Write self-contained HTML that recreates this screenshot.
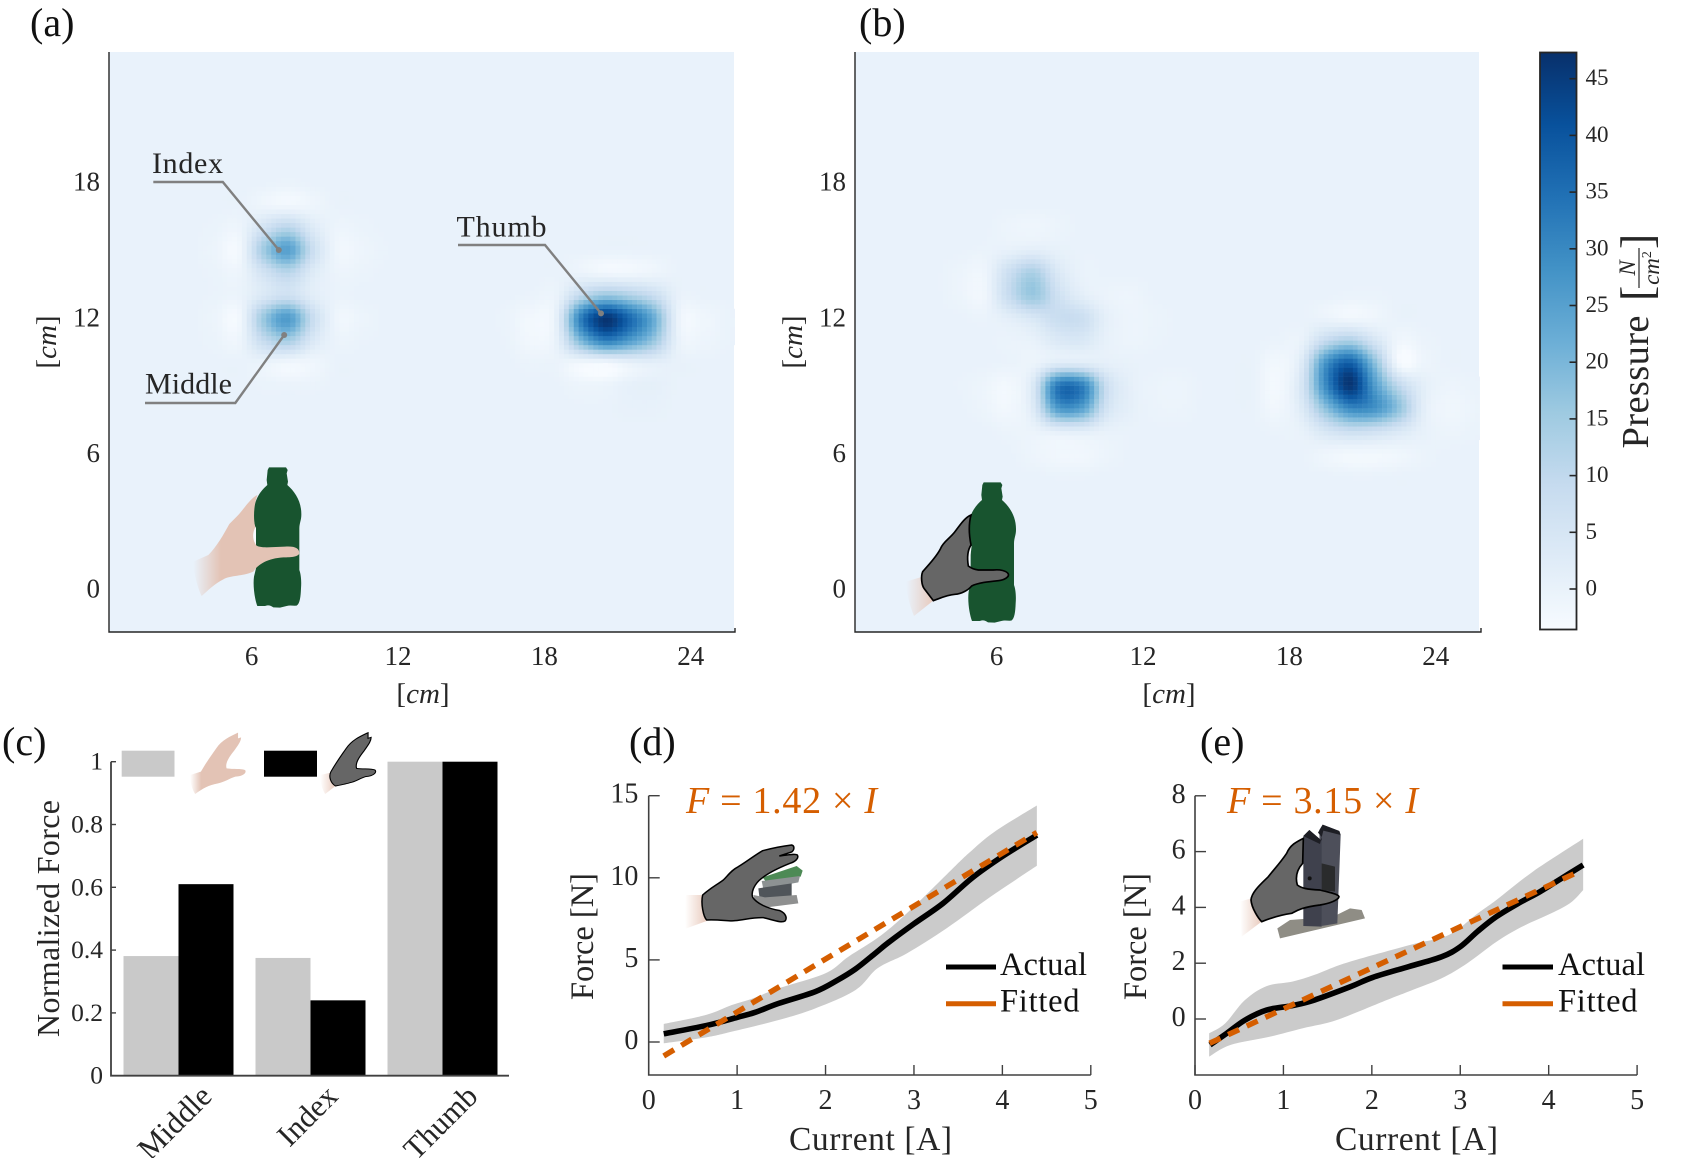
<!DOCTYPE html>
<html lang="en">
<head>
<meta charset="utf-8">
<title>Pressure maps and force calibration</title>
<style>
html,body{margin:0;padding:0;background:#fff;}
svg{display:block;}
text{font-family:"Liberation Serif",serif;fill:#262626;}
</style>
</head>
<body>
<svg id="figure" xmlns="http://www.w3.org/2000/svg" width="1704" height="1158" viewBox="0 0 1704 1158">
<defs>
<linearGradient id="cbGrad" x1="0" y1="1" x2="0" y2="0"></linearGradient>
<linearGradient id="skinFade" x1="0" y1="0" x2="1" y2="0">
<stop offset="0" stop-color="#e3c3b5" stop-opacity="0"/>
<stop offset="0.26" stop-color="#e3c3b5"/>
<stop offset="1" stop-color="#e3c3b5"/>
</linearGradient>
<linearGradient id="skinFadeSmall" x1="0" y1="0" x2="1" y2="0">
<stop offset="0" stop-color="#e3c3b5" stop-opacity="0"/>
<stop offset="0.2" stop-color="#e3c3b5"/>
<stop offset="1" stop-color="#e3c3b5"/>
</linearGradient>
<linearGradient id="wristFade" x1="0" y1="0" x2="1" y2="0">
<stop offset="0" stop-color="#e8c8ba" stop-opacity="0"/>
<stop offset="1" stop-color="#e8c8ba" stop-opacity="0.95"/>
</linearGradient>
<g id="bottleShape"><path d="M297 82 L348 82 L353 90 L350 100 L354 125 L352 135 C375 155 395 185 394 225 C394 240 388 250 388 265 L388 390 C392 400 395 420 393 445 C392 470 390 490 380 497 C370 498 360 495 350 498 L330 503 L310 502 C300 495 295 495 285 498 L262 498 C255 480 248 440 252 410 L258 385 L258 265 C250 250 250 225 252 205 C258 170 275 150 292 135 L290 120 L292 100 L293 90 Z" fill="#18542f"/></g>
</defs>
<rect x="0" y="0" width="1704" height="1158" fill="#fff"/>

<g id="panelA"></g>
<g id="panelB"></g>

<!-- axis lines for heatmaps -->
<path d="M109 52 V632 H735 V628" fill="none" stroke="#262626" stroke-width="1.4"/>
<path d="M855 52 V632 H1481 V628" fill="none" stroke="#262626" stroke-width="1.4"/>

<text x="30" y="36" font-size="40" style="fill:#111">(a)</text>
<text x="859" y="36" font-size="40" style="fill:#111">(b)</text>
<text x="2" y="755" font-size="40" style="fill:#111">(c)</text>
<text x="629" y="755" font-size="40" style="fill:#111">(d)</text>
<text x="1200" y="755" font-size="40" style="fill:#111">(e)</text>

<!-- axis titles for maps -->
<text x="423" y="703" font-size="29" text-anchor="middle">[<tspan font-style="italic">cm</tspan>]</text>
<text x="1169" y="703" font-size="29" text-anchor="middle">[<tspan font-style="italic">cm</tspan>]</text>
<text transform="translate(56,342) rotate(-90)" font-size="29" text-anchor="middle">[<tspan font-style="italic">cm</tspan>]</text>
<text transform="translate(802,342) rotate(-90)" font-size="29" text-anchor="middle">[<tspan font-style="italic">cm</tspan>]</text>

<!-- annotations -->
<g>
<polyline points="153.3,182 222.8,182 278.8,250" fill="none" stroke="#808080" stroke-width="2.4"/>
<circle cx="278.8" cy="250" r="3" fill="#808080"/>
<text x="152" y="173" font-size="30" textLength="71" lengthAdjust="spacing">Index</text>
</g>
<g>
<polyline points="145,403 235.3,403 284.2,335" fill="none" stroke="#808080" stroke-width="2.4"/>
<circle cx="284.2" cy="335" r="3" fill="#808080"/>
<text x="145" y="393.5" font-size="30" textLength="87" lengthAdjust="spacing">Middle</text>
</g>
<g>
<polyline points="458,245 545,245 601,313.4" fill="none" stroke="#808080" stroke-width="2.4"/>
<circle cx="601" cy="313.4" r="3" fill="#808080"/>
<text x="456.5" y="236.5" font-size="30" textLength="90" lengthAdjust="spacing">Thumb</text>
</g>

<!-- bottle + bare hand -->
<g transform="translate(170,440) scale(.33333)">
<use href="#bottleShape"/>
<path d="M248 262 C244 285 246 305 258 318 L258 262 Z" fill="#f7fbff"/>
<path d="M262 165 C240 175 220 210 200 230 L178 252 C160 285 140 320 115 345 L70 365 C68 390 85 450 95 468 C115 450 135 430 160 418 C185 405 215 410 250 395 C262 375 290 355 340 352 C365 352 385 350 388 340 C388 325 375 318 345 320 L290 322 C275 322 262 320 258 315 C248 300 246 280 256 262 C250 240 250 200 262 165 Z" fill="url(#skinFade)"/>
</g>
<!-- bottle + gloved hand -->
<g transform="translate(900,460) scale(.33333)">
<g transform="translate(-46,-15)"><use href="#bottleShape"/></g>
<path d="M68 350 L18 365 C18 395 30 440 42 468 L100 422 Z" fill="url(#wristFade)"/>
<path d="M205 258 C198 280 200 305 207 320 L215 258 Z" fill="#f7fbff"/>
<path d="M213 165 C195 172 180 195 165 215 C150 235 130 245 122 265 C110 290 85 315 68 335 C62 350 65 375 72 385 L100 422 C120 415 140 405 165 403 C185 402 205 390 215 378 C235 368 265 365 295 362 C315 360 328 350 325 342 C320 332 300 328 280 330 L235 330 C220 328 210 322 205 318 C202 300 200 275 213 255 C208 230 205 195 213 165 Z" fill="#666" stroke="#000" stroke-width="5"/>
</g>

<!-- colorbar -->
<g id="colorbar">
<rect x="1540" y="52.5" width="36.5" height="577" fill="url(#cbGrad)" stroke="#262626" stroke-width="1.8"/>
</g>
<text transform="translate(1648,448.5) rotate(-90)" font-size="38.5" textLength="133" lengthAdjust="spacing">Pressure</text>
<g>
<text transform="translate(1652,301) rotate(-90)" font-size="46">[</text>
<text transform="translate(1652,249) rotate(-90)" font-size="46">]</text>
<line x1="1639" y1="248" x2="1639" y2="288" stroke="#262626" stroke-width="1.2"/>
<text transform="translate(1635,268) rotate(-90)" font-size="23" font-style="italic" text-anchor="middle">N</text>
<text transform="translate(1659,268) rotate(-90)" font-size="23" font-style="italic" text-anchor="middle">cm<tspan font-size="14" font-style="normal" dy="-8">2</tspan></text>
</g>

<!-- panel c -->
<g id="panelC"></g>
<path d="M111 761.7 V1075.7 H509" fill="none" stroke="#404040" stroke-width="1.8"/>
<text transform="translate(59,918.5) rotate(-90)" font-size="32" text-anchor="middle" textLength="237" lengthAdjust="spacing">Normalized Force</text>

<rect x="121.7" y="750.7" width="52.8" height="26" fill="#c9c9c9"/>
<rect x="264" y="750.7" width="53" height="26" fill="#000"/>
<g transform="translate(0,700) scale(.3827,.33333)">
<path d="M622 98 C600 110 580 120 565 145 C550 170 540 185 525 215 L497 225 C497 250 503 270 510 282 C530 265 545 255 570 250 C590 245 600 235 615 230 C640 228 645 215 640 210 C630 205 610 208 592 205 C588 190 598 172 612 152 C620 138 630 125 630 112 L622 115 Z" fill="url(#skinFadeSmall)"/>
</g>
<g transform="translate(130,700) scale(.3827,.33333)">
<path d="M525 218 L497 225 C497 250 503 270 510 282 L537 258 Z" fill="url(#wristFade)"/>
<path d="M622 98 C600 110 580 120 565 145 C550 170 540 185 525 215 C518 230 525 250 537 258 C550 255 570 250 575 248 C590 245 600 235 615 230 C640 228 645 215 640 210 C630 205 610 208 592 205 C588 190 598 172 612 152 C620 138 630 125 630 112 L622 115 Z" fill="#666" stroke="#000" stroke-width="3"/>
</g>

<!-- panels d and e -->
<g id="panelD"></g>
<g id="panelE"></g>

<text x="686" y="813" font-size="38" textLength="191" lengthAdjust="spacing" style="fill:#d55e00"><tspan font-style="italic" style="fill:#d55e00">F</tspan> = 1.42 × <tspan font-style="italic" style="fill:#d55e00">I</tspan></text>
<text x="1227" y="813" font-size="38" textLength="191" lengthAdjust="spacing" style="fill:#d55e00"><tspan font-style="italic" style="fill:#d55e00">F</tspan> = 3.15 × <tspan font-style="italic" style="fill:#d55e00">I</tspan></text>

<text x="789" y="1150" font-size="33.5" textLength="163" lengthAdjust="spacing">Current [A]</text>
<text x="1335" y="1150" font-size="33.5" textLength="163" lengthAdjust="spacing">Current [A]</text>
<text transform="translate(593,1000) rotate(-90)" font-size="32.5" textLength="127" lengthAdjust="spacing">Force [N]</text>
<text transform="translate(1146,1000) rotate(-90)" font-size="32.5" textLength="127" lengthAdjust="spacing">Force [N]</text>

<g>
<line x1="946" y1="967" x2="996" y2="967" stroke="#000" stroke-width="5"/>
<line x1="946" y1="1003.7" x2="996" y2="1003.7" stroke="#d55e00" stroke-width="5"/>
<text x="1000" y="975" font-size="32.5" textLength="87" lengthAdjust="spacing" style="fill:#111">Actual</text>
<text x="1000" y="1011.7" font-size="32.5" textLength="79.5" lengthAdjust="spacing" style="fill:#111">Fitted</text>
</g>
<g>
<line x1="1502.5" y1="967" x2="1553" y2="967" stroke="#000" stroke-width="5"/>
<line x1="1502.5" y1="1003.7" x2="1553" y2="1003.7" stroke="#d55e00" stroke-width="5"/>
<text x="1558" y="975" font-size="32.5" textLength="87" lengthAdjust="spacing" style="fill:#111">Actual</text>
<text x="1558" y="1011.7" font-size="32.5" textLength="79.5" lengthAdjust="spacing" style="fill:#111">Fitted</text>
</g>

<!-- glove + sensor icon, panel d -->
<g transform="translate(680,820) scale(.33333)">
<path d="M68 225 L18 225 C14 260 14 295 17 326 L80 303 Z" fill="url(#wristFade)"/>
<path d="M248 172 L350 138 L368 152 L362 170 L262 190 Z" fill="#4d8a55"/>
<path d="M245 183 L360 168 L355 187 L250 207 Z" fill="#8d9293"/>
<path d="M235 205 L335 190 L335 232 L240 245 Z" fill="#50555a"/>
<path d="M220 225 L255 232 L350 225 L355 250 L260 262 L225 242 Z" fill="#8f9090"/>
<path d="M68 225 C90 205 110 195 130 180 C145 165 155 150 175 140 C200 125 225 105 248 92 C275 85 310 78 335 75 C345 78 343 90 335 96 L298 108 C320 106 345 100 352 105 C358 115 345 125 330 130 C310 138 270 155 245 175 C225 190 212 215 218 232 C230 250 260 265 300 272 C318 280 322 295 315 303 C305 310 280 300 250 293 C220 292 200 298 165 302 C150 305 120 298 80 300 C70 290 62 250 68 225 Z" fill="#666" stroke="#000" stroke-width="4.5"/>
</g>
<!-- glove + tube icon, panel e -->
<g transform="translate(1240,820) scale(.33333)">
<path d="M33 235 L0 245 L5 350 L65 305 Z" fill="url(#wristFade)"/>
<path d="M112 325 L150 300 L280 290 L330 265 L365 270 L375 295 L120 355 Z" fill="#8f8d85"/>
<path d="M238 30 L248 14 L298 33 L302 45 L292 310 L245 318 Z" fill="#4d4f5a"/>
<path d="M190 48 L208 30 L245 62 L245 320 L190 318 Z" fill="#3f414d"/>
<path d="M190 48 L208 30 L245 62 L246 52 L234 38 L248 14 L298 33 L302 45 L250 32 L240 72 Z" fill="#1d1e24"/>
<path d="M245 130 L285 140 L285 215 L245 210 Z" fill="#2a2b2c"/>
<circle cx="209" cy="175" r="6" fill="#111"/>
<path d="M190 55 C170 65 150 75 140 100 C120 130 100 150 85 170 C65 190 35 215 33 240 C35 265 55 295 65 305 C90 295 120 285 155 280 C170 272 185 262 240 255 C270 250 295 240 297 230 C295 222 270 218 240 210 C200 208 185 205 172 195 C165 170 170 150 188 130 Z" fill="#666" stroke="#000" stroke-width="5"/>
</g>
</svg>

<script>
// ---------- heatmap data (N/cm^2), columns at 0.5, 1.5 ... 25.5 cm ----------
const rowsA = [18,17,16,15,14,13,12,11,10,9,8,7];
const pressureA = [
[0,0,0,0, 0,0,0,-.3,0,0,0,0, 0,0,0,0, 0,0,0,0,0,0,0,0,0,0],
[0,0,0,0, 0,0,-1.2,-2,-1.2,0,0,0, 0,0,0,0, 0,0,0,0,0,0,0,0,0,0],
[0,0,0,0, -.3,-.8,6,11,3,-.8,-.4,0, 0,0,0,0, 0,0,0,0,0,0,0,0,0,0],
[0,0,0,0, -.8,-2,15,25,8,-1.5,-1,-.2, 0,0,0,0, 0,0,0,0,0,0,0,0,0,0],
[0,0,0,0, -.3,-.8,6,11,3,-.6,-.4,0, 0,0,0,0, 0,0,0,-.5,-1.8,-1.8,-1,0,0,0],
[0,0,0,0, -.2,-.4,4,7,2,-.2,0,0, 0,0,0,0, 0,-.3,-.2,10,16,13,8,.3,0,0],
[0,0,0,0, -.8,-2,16,26,8.5,-1.2,-.8,0, 0,0,0,0, -.5,-2.2,1,32,46,36,22,-.5,-1.5,-.3],
[0,0,0,0, -.4,-1,9,14,4,-.5,-.2,0, 0,0,0,0, -.3,-2,.5,20,32,26,16,0,-1,-.2],
[0,0,0,0, 0,0,-.4,-1.8,-1.5,0,0,0, 0,0,0,0, 0,-.5,-.5,-2,-2,.3,1.2,.3,0,0],
[0,0,0,0, 0,0,-.2,-.3,-.3,0,0,0, 0,0,0,0, 0,0,0,-.8,-.6,.7,1,0,0,0],
[0,0,0,0, 0,0,0,0,0,0,0,0, 0,0,0,0, 0,0,0,0,0,.4,.4,0,0,0],
[0,0,0,0, 0,0,0,0,0,0,0,0, 0,0,0,0, 0,0,0,0,0,0,0,0,0,0]
];
const rowsB = [16,15,14,13,12,11,10,9,8,7,6,5];
const pressureB = [
[0,0,0,0, 0,0,-.8,-1.2,-.6,0,0,0, 0,0,0,0, 0,0,0,0,0,0,0,0,0,0],
[0,0,0,0, 0,-.3,.5,1.5,.5,0,0,0, 0,0,0,0, 0,0,0,0,0,0,0,0,0,0],
[0,0,0,0, -.8,-1.2,7.5,13.5,4,0,0,0, 0,0,0,0, 0,0,0,0,0,0,0,0,0,0],
[0,0,0,0, -.8,-1.5,8.5,16,7,1.5,-.5,-1, 0,0,0,0, 0,0,0,0,-.3,-.3,0,0,0,0],
[0,0,0,0, 0,-.3,1.5,4.5,8,7.5,1,-.8, -.5,0,0,0, 0,0,0,-.6,-1.8,-1.2,0,0,0,0],
[0,0,0,0, 0,0,-.3,.3,3.5,4,.5,-.8, -.3,0,0,0, 0,-.3,0,9,13,5,-1.5,-.5,0,0],
[0,0,0,0, 0,0,-.3,-.5,2.5,2.5,1,.2, 0,0,0,0, 0,-2,3,28,38,18,-2.5,-1,0,0],
[0,0,0,0, -.2,-1,-2.2,4,33,32,8,1, -.5,-.8,0,0, 0,-2.5,5,30,46,26,10,1.5,-.8,-.3],
[0,0,0,0, 0,-.8,-2,3,26,25,6,1, -.4,-.6,0,0, 0,-1.8,3,18,30,28,17,1.5,-1.5,-.8],
[0,0,0,0, 0,0,-.6,-.5,1.5,2,.3,0, 0,0,0,0, 0,-.3,.3,5,8,7,4,.5,-.8,-.3],
[0,0,0,0, 0,0,0,-1,-1.8,-1.8,-.8,0, 0,0,0,0, 0,0,0,-1.2,-2,-2,-1.5,-.5,0,0],
[0,0,0,0, 0,0,0,0,-.2,-.2,0,0, 0,0,0,0, 0,0,0,0,-.2,-.2,0,0,0,0]
];
const mapXTicks = [6,12,18,24];
const mapYTicks = [0,6,12,18];
const colorbarTicks = [0,5,10,15,20,25,30,35,40,45];
const blues = ['#f7fbff','#deebf7','#c6dbef','#9ecae1','#6baed6','#4292c6','#2171b5','#08519c','#08306b'];

// ---------- bar chart data ----------
const fingers = ['Middle','Index','Thumb'];
const bareForce = [0.381,0.375,1];
const glovedForce = [0.61,0.24,1];
const barTicks = [0,0.2,0.4,0.6,0.8,1];

// ---------- force-current data ----------
const currentTicks = [0,1,2,3,4,5];
const forceTicksD = [0,5,10,15];
const forceTicksE = [0,2,4,6,8];

const actualIoD = [.17,.65,1,1.2,1.47,1.885,2.13,2.34,2.55,2.71,3,3.33,3.66,4,4.39];
const actualFoD = [.5,1,1.5,1.8,2.35,3.07,3.75,4.45,5.35,6.05,7.2,8.45,10,11.3,12.6];
const upperIoD = [.17,.65,.94,1.18,1.47,2,2.26,2.63,2.96,3.37,3.62,3.91,4.39];
const upperFoD = [1.1,1.65,2.25,2.66,3.27,4.19,5.2,6.5,8.05,10.2,11.5,12.8,14.4];
const lowerIoD = [.17,.65,.94,1.47,1.885,2.34,2.59,2.92,3.37,3.87,4.39];
const lowerFoD = [-.08,.28,.63,1.34,2.05,3.17,4.5,5.4,6.93,8.86,10.73];
const fitIoD = [.17,4.39];
const fitFoD = [-.85,12.76];

const actualIoE = [.17,.36,.565,.81,1.1,1.35,1.76,2.01,2.42,2.79,3,3.2,3.41,3.66,3.9,4.15,4.39];
const actualFoE = [-.93,-.51,-.04,.32,.48,.68,1.16,1.49,1.88,2.23,2.59,3.15,3.67,4.15,4.56,5.05,5.52];
const upperIoE = [.16,.34,.565,.81,1.1,1.35,1.64,2.01,2.5,2.87,3.2,3.41,3.82,4.39];
const upperFoE = [-.51,-.16,.68,1.18,1.34,1.58,1.94,2.29,2.71,3.01,3.79,4.27,5.28,6.46];
const lowerIoE = [.16,.4,.85,1.22,1.6,2.17,2.46,2.79,3.08,3.41,3.7,3.99,4.24,4.39];
const lowerFoE = [-1.35,-.93,-.63,-.33,-.04,.68,1.04,1.46,2,2.77,3.31,3.73,4.15,4.62];
const fitIoE = [.165,4.34];
const fitFoE = [-.87,5.28];

// ---------- helpers ----------
const NS = 'http://www.w3.org/2000/svg';
function mk(parent, tag, props, txt){
  const el = document.createElementNS(NS, tag);
  for (const k in props) el.setAttribute(k, props[k]);
  if (txt !== undefined) el.textContent = txt;
  parent.appendChild(el);
  return el;
}
function hex(c){return [1,3,5].map(i=>parseInt(c.substr(i,2),16));}
const cbMin = -3.55, cbMax = 47.3;
function colorOf(v){
  let p = (v-cbMin)/(cbMax-cbMin)*(blues.length-1);
  p = Math.max(0, Math.min(blues.length-1.0001, p));
  const i = Math.floor(p), t = p-i, a = hex(blues[i]), b = hex(blues[i+1]);
  return 'rgb('+a.map((x,j)=>Math.round(x+(b[j]-x)*t)).join(',')+')';
}
function cr(p0,p1,p2,p3,t){
  return .5*((2*p1)+(-p0+p2)*t+(2*p0-5*p1+4*p2-p3)*t*t+(-p0+3*p1-3*p2+p3)*t*t*t);
}
function sample(m, rows, x, y){
  const fx = x-.5, fy = rows[0]-y;
  const ix = Math.floor(fx), iy = Math.floor(fy), tx = fx-ix, ty = fy-iy;
  const g = (r,c)=> (r<0||r>=m.length||c<0||c>=m[0].length) ? 0 : m[r][c];
  const row = r => cr(g(r,ix-1),g(r,ix),g(r,ix+1),g(r,ix+2),tx);
  return cr(row(iy-1),row(iy),row(iy+1),row(iy+2),ty);
}
function smooth(pts){
  let d = 'M'+pts[0][0].toFixed(2)+' '+pts[0][1].toFixed(2);
  for (let i=0;i<pts.length-1;i++){
    const a=pts[Math.max(i-1,0)], b=pts[i], c=pts[i+1], e=pts[Math.min(i+2,pts.length-1)];
    d += ' C'+(b[0]+(c[0]-a[0])/6).toFixed(2)+' '+(b[1]+(c[1]-a[1])/6).toFixed(2)+' '
      +(c[0]-(e[0]-b[0])/6).toFixed(2)+' '+(c[1]-(e[1]-b[1])/6).toFixed(2)+' '
      +c[0].toFixed(2)+' '+c[1].toFixed(2);
  }
  return d;
}

// ---------- heatmaps ----------
function drawMap(g, left, right, x6, m, rows, prefix){
  const top = 52, bottom = 632;
  const X = c => x6+(c-6)*24.4;
  const Y = c => 589-c*22.6;
  const bg = mk(g,'rect',{x:left,y:top,width:right-left,height:bottom-top,fill:colorOf(0)});
  
  
  const stepX = .2, stepY = .2;
  for (let cy=-2; cy<24; cy+=stepY){
    for (let cx=0; cx<26; cx+=stepX){
      const v = sample(m, rows, cx+stepX/2, cy+stepY/2);
      if (Math.abs(v) < .1) continue;
      const px = X(cx), py = Y(cy+stepY);
      if (px < left || px > right || py < top || py > bottom) continue;
      const cell = mk(g,'rect',{x:px.toFixed(2),y:py.toFixed(2),width:5.1,height:4.75,fill:colorOf(v)});
      
      
    }
  }
  mapXTicks.forEach(t=>{
    const lab = mk(g,'text',{x:X(t),y:665,'font-size':27,'text-anchor':'middle'},t);
    
    
  });
  mapYTicks.forEach(t=>{
    const lab = mk(g,'text',{x:left-9,y:Y(t)+8.5,'font-size':27,'text-anchor':'end'},t);
    
    
  });
}
drawMap(document.getElementById('panelA'),109,734,251.6,pressureA,rowsA,'map-a');
drawMap(document.getElementById('panelB'),855,1479,996.6,pressureB,rowsB,'map-b');

// ---------- colorbar ----------
const grad = document.getElementById('cbGrad');
blues.forEach((c,i)=>{
  mk(grad,'stop',{offset:i/(blues.length-1),'stop-color':c});
});
const cbG = document.getElementById('colorbar');
const cbY = v => 589-v*11.34;
colorbarTicks.forEach(t=>{
  const tick = mk(cbG,'line',{x1:1569.5,x2:1576,y1:cbY(t),y2:cbY(t),stroke:'#262626','stroke-width':1.6});
  
  
  const lab = mk(cbG,'text',{x:1585.5,y:cbY(t)+6.5,'font-size':23},t);
  
  
});

// ---------- bar chart ----------
const gc = document.getElementById('panelC');
const barY = v => 1075.7-v*314;
const groupX = i => 178.5+132*i;
const barW = 55;
const labelShift = i => i===0 ? 35 : (i===1 ? 29 : 37);
fingers.forEach((f,i)=>{
  const a = mk(gc,'rect',{x:groupX(i)-barW,y:barY(bareForce[i]),width:barW,height:barY(0)-barY(bareForce[i]),fill:'#c9c9c9'});
  
  
  const b = mk(gc,'rect',{x:groupX(i),y:barY(glovedForce[i]),width:barW,height:barY(0)-barY(glovedForce[i]),fill:'#000'});
  
  
  const ex = groupX(i)+labelShift(i), ey = 1098;
  const lab = mk(gc,'text',{transform:'translate('+ex+','+ey+') rotate(-45)','font-size':31,'text-anchor':'end'},f);
  
  
});
barTicks.forEach(t=>{
  const tick = mk(gc,'line',{x1:111,x2:116,y1:barY(t),y2:barY(t),stroke:'#404040','stroke-width':1.4});
  
  
  const lab = mk(gc,'text',{x:103,y:barY(t)+8,'font-size':25.5,'text-anchor':'end'},t);
  
  
});

// ---------- force-current charts ----------
function drawForce(g, x0, pxPerN, y0, yTicks, labX, aI, aF, uI, uF, lI, lF, fI, fF, prefix){
  const X = i => x0+i*88.42;
  const Y = f => y0-f*pxPerN;
  const base = 1075;
  const up = uI.map((v,i)=>[X(v),Y(uF[i])]);
  const lo = lI.map((v,i)=>[X(v),Y(lF[i])]).reverse();
  const bandPath = smooth(up)+' L'+lo[0][0].toFixed(2)+' '+lo[0][1].toFixed(2)+smooth(lo).replace(/^M[^C]*/,' ')+' Z';
  const band = mk(g,'path',{d:bandPath,fill:'#cbcbcb'});
  
  
  const act = mk(g,'path',{d:smooth(aI.map((v,i)=>[X(v),Y(aF[i])])),fill:'none',stroke:'#000','stroke-width':5.6});
  
  
  const fit = mk(g,'line',{x1:X(fI[0]),y1:Y(fF[0]),x2:X(fI[1]),y2:Y(fF[1]),stroke:'#d55e00','stroke-width':5.5,'stroke-dasharray':'12 8.5'});
  
  
  const ax = mk(g,'path',{d:'M'+X(5)+' '+base+' H'+x0+' V'+Y(yTicks[yTicks.length-1]),fill:'none',stroke:'#404040','stroke-width':1.6});
  
  
  currentTicks.forEach(t=>{
    const tick = mk(g,'line',{x1:X(t),x2:X(t),y1:base,y2:base-10,stroke:'#404040','stroke-width':1.4});
    
    
    const lab = mk(g,'text',{x:X(t),y:1109,'font-size':28,'text-anchor':'middle'},t);
    
    
  });
  yTicks.forEach(t=>{
    const tick = mk(g,'line',{x1:x0,x2:x0+11,y1:Y(t),y2:Y(t),stroke:'#404040','stroke-width':1.4});
    
    
    const lab = mk(g,'text',{x:labX,y:Y(t)+7,'font-size':28,'text-anchor':'end'},t);
    
    
  });
}
drawForce(document.getElementById('panelD'),648.7,16.42,1042,forceTicksD,638.4,actualIoD,actualFoD,upperIoD,upperFoD,lowerIoD,lowerFoD,fitIoD,fitFoD,'chart-d');
drawForce(document.getElementById('panelE'),1195,27.9,1019,forceTicksE,1185.6,actualIoE,actualFoE,upperIoE,upperFoE,lowerIoE,lowerFoE,fitIoE,fitFoE,'chart-e');
</script>
</body>
</html>
